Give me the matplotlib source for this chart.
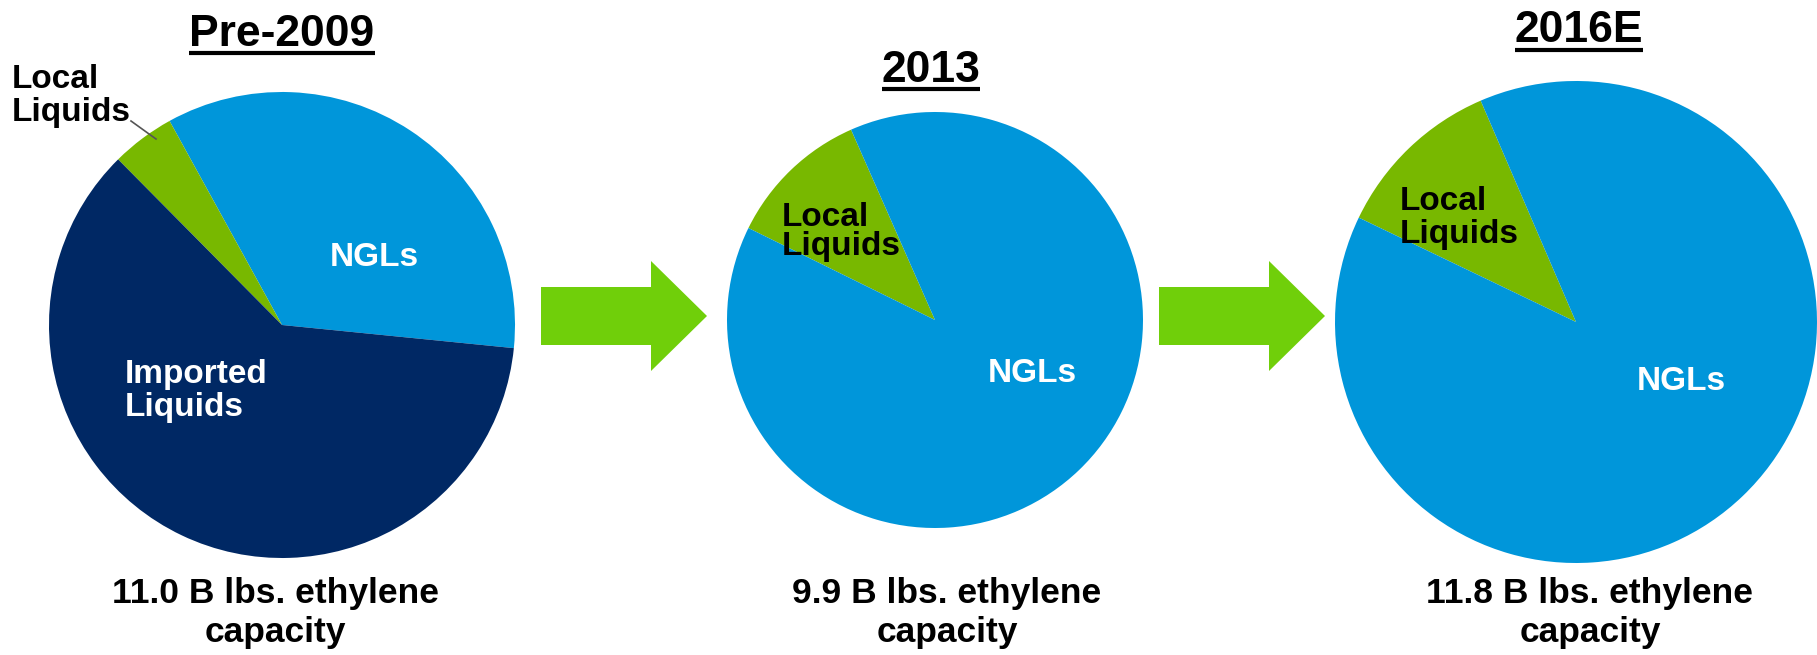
import matplotlib
matplotlib.use("Agg")
import matplotlib.pyplot as plt
from matplotlib.patches import FancyArrow

plt.rcParams['font.family'] = ['Liberation Sans', 'DejaVu Sans']
plt.rcParams['font.weight'] = 'bold'

W, H = 1817, 655

# data (shares of ethylene feedstock, %)
titles = ['Pre-2009', '2013', '2016E']
captions = ['11.0 B lbs. ethylene\ncapacity', '9.9 B lbs. ethylene\ncapacity',
            '11.8 B lbs. ethylene\ncapacity']
pre2009_labels = ['NGLs', 'Local Liquids', 'Imported Liquids']
pre2009_values = [34.6, 4.4, 61.0]
y2013_labels = ['Local Liquids', 'NGLs']
y2013_values = [11.1, 88.9]
y2016_labels = ['Local Liquids', 'NGLs']
y2016_values = [11.4, 88.6]

NGL = '#0096da'
LOCAL = '#78b800'
IMPORTED = '#002864'
ARROW = '#70cf0a'

fig = plt.figure(figsize=(W / 100, H / 100), dpi=100)
ax = fig.add_axes([0, 0, 1, 1])


def Y(y):
    # pixel row (from top) -> data y
    return H - y


# pies: center (px), radius (px), start angle
ax.pie(pre2009_values, colors=[NGL, LOCAL, IMPORTED], startangle=-5.7,
       center=(282, Y(325)), radius=233, frame=True,
       wedgeprops=dict(linewidth=0))
ax.pie(y2013_values, colors=[LOCAL, NGL], startangle=113.8,
       center=(935, Y(320)), radius=208, frame=True,
       wedgeprops=dict(linewidth=0))
ax.pie(y2016_values, colors=[LOCAL, NGL], startangle=113.3,
       center=(1576, Y(322)), radius=241, frame=True,
       wedgeprops=dict(linewidth=0))

ax.set_xlim(0, W)
ax.set_ylim(0, H)
ax.set_aspect('equal')
ax.axis('off')

# arrows between pies
for x0 in (541, 1159):
    ax.add_patch(FancyArrow(x0, Y(316), 166, 0, width=58, head_width=110,
                            head_length=56, length_includes_head=True,
                            color=ARROW, linewidth=0))

# titles with underline
title_pos = [(282, 34), (931, 70), (1579, 31)]
title_objs = []
for t, (x, y) in zip(titles, title_pos):
    title_objs.append(ax.text(x, Y(y), t, fontsize=32, ha='center', va='center'))

# slice labels
ax.text(12, Y(96), 'Local\nLiquids', fontsize=24, ha='left', va='center',
        linespacing=1.1)
ax.plot([131, 156], [Y(121), Y(139)], color='#555555', lw=1.2)
ax.text(374, Y(257), 'NGLs', fontsize=24, ha='center', va='center', color='white')
ax.text(125, Y(391), 'Imported\nLiquids', fontsize=24, ha='left', va='center',
        color='white', linespacing=1.1)

ax.text(782, Y(232), 'Local\nLiquids', fontsize=24, ha='left', va='center',
        linespacing=0.95)
ax.text(1032, Y(374), 'NGLs', fontsize=24, ha='center', va='center', color='white')

ax.text(1400, Y(218), 'Local\nLiquids', fontsize=24, ha='left', va='center',
        linespacing=1.1)
ax.text(1681, Y(382), 'NGLs', fontsize=24, ha='center', va='center', color='white')

# captions
for c, x in zip(captions, (275, 947, 1590)):
    ax.text(x, Y(613), c, fontsize=25.5, ha='center', va='center', linespacing=1.25)

# underline the titles
fig.canvas.draw()
r = fig.canvas.get_renderer()
inv = ax.transData.inverted()
for t in title_objs:
    bb = t.get_window_extent(renderer=r)
    (x0, y0), (x1, _) = inv.transform([(bb.x0, bb.y0), (bb.x1, bb.y1)])
    ax.plot([x0, x1], [y0 + 2, y0 + 2], color='black', lw=3, solid_capstyle='butt')

fig.savefig('out.png', dpi=100)
